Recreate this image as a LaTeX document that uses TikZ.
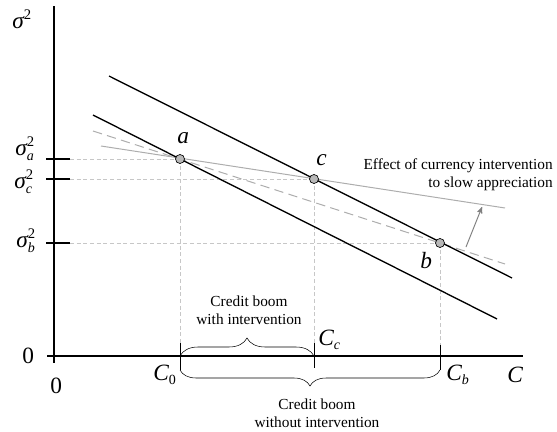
\documentclass[tikz,border=0pt]{standalone}
\usepackage{amsmath}
\usepackage{fontspec}
\setmainfont{Liberation Serif}
\usepackage{tikz}
\usetikzlibrary{positioning}
\usetikzlibrary{decorations.pathreplacing,arrows,calc}

\definecolor{guidegray}{gray}{0.78}
\definecolor{slopegray}{gray}{0.68}
\definecolor{arrowgray}{gray}{0.5}
\definecolor{dotgray}{gray}{0.72}

% variance and credit labels
\newcommand{\sqvar}[1]{{\itshape σ}\rlap{\raisebox{6.5pt}{\fontsize{11}{11}\selectfont 2}}\raisebox{-4pt}{\fontsize{10.5}{10.5}\selectfont\itshape #1}}
\newcommand{\crvar}[1]{{\itshape C}\raisebox{-3pt}{\fontsize{10.5}{10.5}\selectfont #1}}

\begin{document}
\begin{tikzpicture}[x=0.75pt,y=-0.75pt,>=stealth',
  curve/.style={line width=1pt},
  guide/.style={guidegray,dash pattern=on 3pt off 2pt,line width=0.6pt},
  eqpoint/.style={circle,fill=dotgray,draw,line width=0.5pt,inner sep=0,minimum size=6.75pt},
  varlab/.style={inner sep=0,font=\fontsize{17.5}{20}\selectfont},
  note/.style={inner sep=0,align=center,font=\fontsize{11.5}{13.5}\selectfont}]
\useasboundingbox (0,0) rectangle (557,432);
% axes
\coordinate (ytop) at (54,6);
\coordinate (ybot) at (54,363);
\coordinate (xlft) at (47,356);
\coordinate (xrgt) at (523,356);
\draw[line width=0.8pt] (ytop) -- (ybot);
\draw[line width=0.8pt] (xlft) -- (xrgt);
% equilibria
\coordinate (pa) at (180,159);
\coordinate (pc) at (314,179);
\coordinate (pb) at (440,243);
% guides
\draw[guide] (70,0 |- pa) -- (pa);
\draw[guide] (70,0 |- pc) -- (pc);
\draw[guide] (70,0 |- pb) -- (pb);
\draw[guide] (pa) -- (pa |- 0,343);
\draw[guide] (pc) -- (pc |- 0,343);
\draw[guide] (pb) -- (pb |- 0,345);
\draw[line width=0.8pt] (46,0 |- pa) -- (70,0 |- pa);
\draw[line width=0.8pt] (46,0 |- pc) -- (70,0 |- pc);
\draw[line width=0.8pt] (46,0 |- pb) -- (70,0 |- pb);
% slopes
\coordinate (Slft) at (101,146);
\coordinate (Srgt) at (505,208);
\coordinate (Dlft) at (93,131);
\coordinate (Drgt) at (505,264);
\coordinate (Ulft) at (109,76);
\coordinate (Urgt) at (512,278);
\coordinate (Llft) at (93,115);
\coordinate (Lrgt) at (497,319);
\draw[slopegray,line width=0.75pt] (Slft) -- (Srgt);
\draw[slopegray,line width=0.75pt,dash pattern=on 7pt off 4pt] (Dlft) -- (Drgt);
\draw[curve] (Ulft) -- (Urgt);
\draw[curve] (Llft) -- (Lrgt);
\coordinate (arrS) at (466,247);
\coordinate (arrE) at (482,207);
\draw[->,arrowgray,line width=0.75pt] (arrS) -- (arrE);
% braces
\coordinate (C0) at (180,356);
\coordinate (Cc) at (314,356);
\coordinate (C0low) at (180,370);
\coordinate (Cblow) at (440,370);
\draw (180,343) -- (C0low);
\draw (314,343) -- (314,368);
\draw (440,345) -- (Cblow);
\draw[decorate,decoration={brace,amplitude=13.5pt}] (C0) -- (Cc);
\draw[decorate,decoration={brace,amplitude=12pt}] (Cblow) -- (C0low);
\node[eqpoint] (a) at (pa) {};
\node[eqpoint] (c) at (pc) {};
\node[eqpoint] (b) at (pb) {};
% labels
\node[varlab,anchor=base west] (sig) at (12,28) {\sqvar{}};
\node[varlab,anchor=base west] (siga) at (15,155) {\sqvar{a}};
\node[varlab,anchor=base west] (sigc) at (14,188) {\sqvar{c}};
\node[varlab,anchor=base west] (sigb) at (16,247) {\sqvar{b}};
\node[varlab,anchor=base west] (la) at (177,143) {\textit{a}};
\node[varlab,anchor=base west] (lc) at (316,165) {\textit{c}};
\node[varlab,anchor=base west] (lb) at (420,268) {\textit{b}};
\node[varlab,anchor=base west] (zy) at (22,363) {0};
\node[varlab,anchor=base west] (zx) at (50,393) {0};
\node[varlab,anchor=base west] (lC0) at (153,380) {\crvar{0}};
\node[varlab,anchor=base west] (lCc) at (318,345) {\crvar{\itshape c}};
\node[varlab,anchor=base west] (lCb) at (446,380) {\crvar{\itshape b}};
\node[varlab,anchor=base west] (lC) at (507,382) {\textit{C}};
\node[note] (with) at (249,310) {Credit boom\\with intervention};
\node[note] (without) at (317,413) {Credit boom\\without intervention};
\node[note,align=right,anchor=east] (effect) at (553,175) {Effect of currency intervention\\to slow appreciation};
\end{tikzpicture}
\end{document}
